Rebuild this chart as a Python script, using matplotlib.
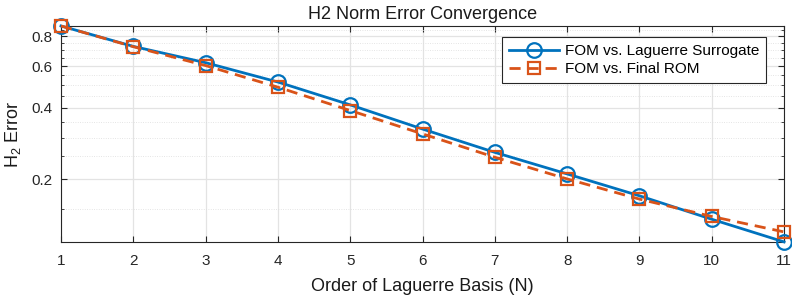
import matplotlib
matplotlib.use("Agg")
import matplotlib.pyplot as plt
from matplotlib.ticker import FixedLocator, NullFormatter, FixedFormatter

plt.rcParams['font.family'] = ['Liberation Sans', 'DejaVu Sans']
plt.rcParams['mathtext.fontset'] = 'custom'
plt.rcParams['mathtext.rm'] = 'Liberation Sans'
plt.rcParams['mathtext.it'] = 'Liberation Sans:italic'

order_n = [1, 2, 3, 4, 5, 6, 7, 8, 9, 10, 11]
err_laguerre = [0.885, 0.726, 0.620, 0.514, 0.412, 0.326, 0.260, 0.211, 0.1707, 0.136, 0.1092]
err_final_rom = [0.885, 0.724, 0.603, 0.489, 0.390, 0.311, 0.248, 0.201, 0.1653, 0.1397, 0.1203]
y_major = [0.2, 0.4, 0.6, 0.8]
y_minor = [0.15, 0.25, 0.3, 0.35, 0.45, 0.5, 0.55, 0.65, 0.7, 0.75, 0.85]

blue = '#0072BD'
orange = '#D95319'
axc = '#262626'

fig = plt.figure(figsize=(7.92, 2.95), dpi=100)
ax = fig.add_axes([0.077, 0.180, 0.913, 0.732])

ax.plot(order_n, err_laguerre, '-', color=blue, lw=2.0, marker='o', ms=10.5,
        mfc='none', mec=blue, mew=1.6, label='FOM vs. Laguerre Surrogate', clip_on=False, zorder=3)
ax.plot(order_n, err_final_rom, '--', color=orange, lw=2.0, marker='s', ms=9,
        mfc='none', mec=orange, mew=1.6, dashes=(4, 2.5), label='FOM vs. Final ROM', clip_on=False, zorder=4)

ax.set_yscale('log')
ax.set_xlim(min(order_n), max(order_n))
ax.set_ylim(min(err_laguerre + err_final_rom), max(err_laguerre + err_final_rom))
ax.set_xticks(order_n)
ax.yaxis.set_major_locator(FixedLocator(y_major))
ax.yaxis.set_major_formatter(FixedFormatter([str(v) for v in y_major]))
ax.yaxis.set_minor_locator(FixedLocator(y_minor))
ax.yaxis.set_minor_formatter(NullFormatter())

ax.grid(True, which='major', color='#e3e3e3', lw=0.9)
ax.grid(True, which='minor', axis='y', color='#dcdcdc', lw=0.6, ls=(0, (1, 1.8)))
ax.set_axisbelow(True)

for s in ax.spines.values():
    s.set_color(axc)
    s.set_linewidth(0.8)
ax.tick_params(which='both', direction='in', top=True, right=True, colors=axc, labelcolor=axc, labelsize=11)
ax.tick_params(which='major', length=4)
ax.tick_params(which='minor', length=2.5)
ax.tick_params(axis='x', pad=9)
ax.tick_params(axis='y', pad=6)

ax.set_title('H2 Norm Error Convergence', fontsize=13, color='#1a1a1a', pad=5)
ax.set_xlabel('Order of Laguerre Basis (N)', fontsize=13, color='#1a1a1a', labelpad=7)
ax.set_ylabel('H$_2$ Error', fontsize=13, color='#1a1a1a', labelpad=6)

leg = ax.legend(loc='upper right', bbox_to_anchor=(0.975, 0.948), fontsize=11, frameon=True,
                fancybox=False, edgecolor=axc, framealpha=1, handlelength=3.3,
                borderpad=0.45, labelspacing=0.25, handletextpad=0.35, borderaxespad=0)
leg.get_frame().set_linewidth(0.8)

fig.savefig('out.png', dpi=100)
